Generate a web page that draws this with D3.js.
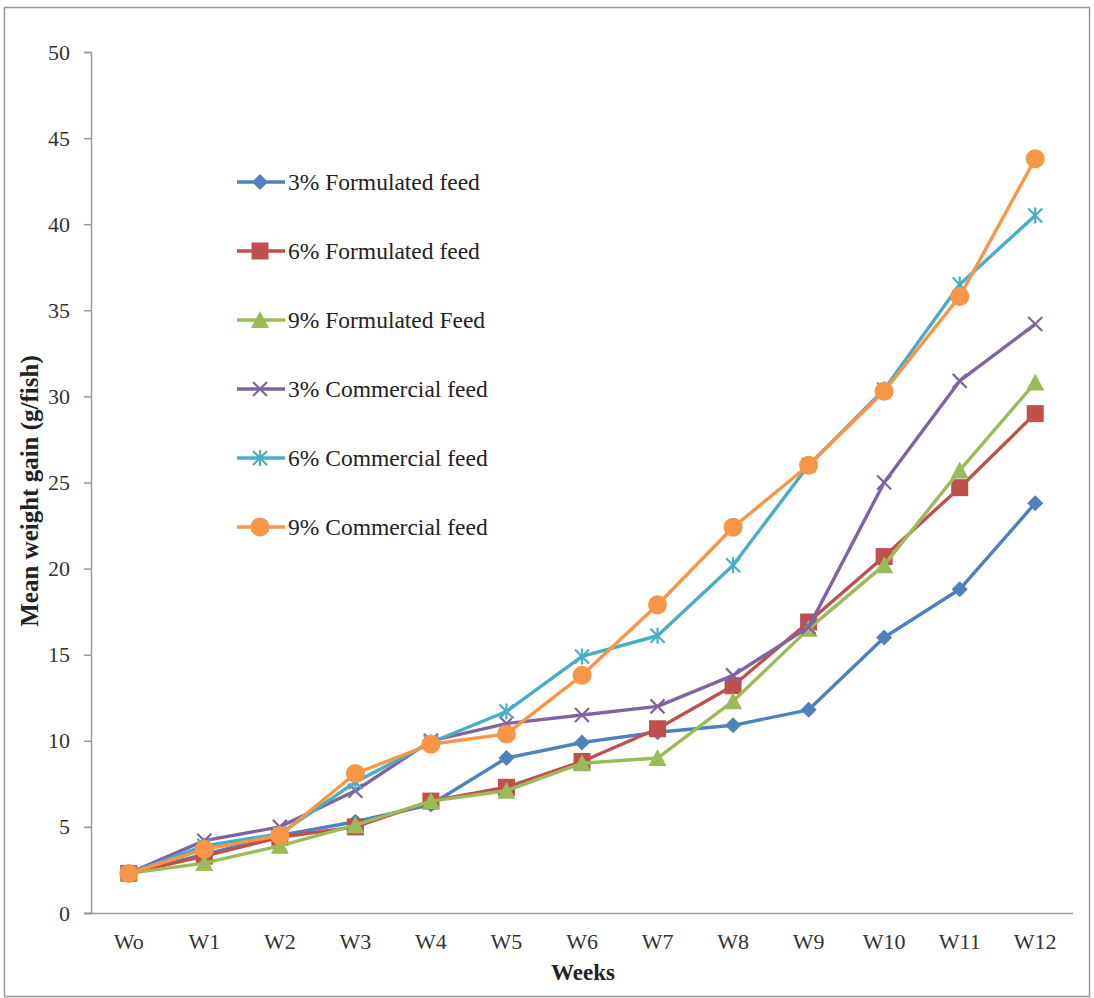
<!DOCTYPE html>
<html><head><meta charset="utf-8">
<script src="https://cdn.jsdelivr.net/npm/d3@7"></script>
<style>body{margin:0;background:#fff}svg{display:block}</style>
</head><body>
<script>
const categories = ["Wo","W1","W2","W3","W4","W5","W6","W7","W8","W9","W10","W11","W12"];
const seriesNames = ["3% Formulated feed","6% Formulated feed","9% Formulated Feed","3% Commercial feed","6% Commercial feed","9% Commercial feed"];
const f3 = [2.3,3.4,4.5,5.3,6.3,9.0,9.9,10.5,10.9,11.8,16.0,18.8,23.8];
const f6 = [2.3,3.3,4.4,5.0,6.5,7.3,8.8,10.7,13.2,16.9,20.7,24.7,29.0];
const f9 = [2.3,2.9,3.9,5.1,6.5,7.1,8.7,9.0,12.3,16.5,20.2,25.7,30.8];
const c3 = [2.3,4.2,5.0,7.1,10.0,11.0,11.5,12.0,13.8,16.6,25.0,30.9,34.2];
const c6 = [2.3,3.9,4.6,7.6,9.9,11.7,14.9,16.1,20.2,26.0,30.4,36.5,40.5];
const c9 = [2.3,3.7,4.5,8.1,9.8,10.4,13.8,17.9,22.4,26.0,30.3,35.8,43.8];
const yTicks = [0,5,10,15,20,25,30,35,40,45,50];
const colors = ["#4F81BD","#C0504D","#9BBB59","#8064A2","#4BACC6","#F79646"];
const markers = ["diamond","square","triangle","x","star","circle"];
const seriesValues = [f3,f6,f9,c3,c6,c9];

const W=1094,H=998;
const svg=d3.select("body").append("svg").attr("width",W).attr("height",H);
svg.append("rect").attr("x",4.5).attr("y",7.5).attr("width",1085).attr("height",989)
  .attr("fill","none").attr("stroke","#999").attr("stroke-width",1.5);

const mLeft=91,mRight=1073,mTop=52,mBottom=913;
const x=d3.scaleBand().domain(categories).range([mLeft,mRight]);
const y=d3.scaleLinear().domain([0,50]).range([mBottom,mTop]);
const font="'Liberation Serif','Times New Roman',serif";

// y axis
const ya=svg.append("g").attr("transform",`translate(${mLeft},0)`)
  .call(d3.axisLeft(y).tickValues(yTicks).tickSize(7).tickPadding(14));
ya.select(".domain").attr("stroke","#999").attr("stroke-width",1.5);
ya.selectAll(".tick line").attr("stroke","#999").attr("stroke-width",1.5);
ya.selectAll("text").attr("font-family",font).attr("font-size",22).attr("fill","#333");

// x axis
const xa=svg.append("g").attr("transform",`translate(0,${mBottom})`)
  .call(d3.axisBottom(x).tickSize(0).tickPadding(20));
xa.select(".domain").attr("stroke","#999").attr("stroke-width",1.5).attr("d",`M${mLeft-7},0.5H${mRight}`);
xa.selectAll("text").attr("font-family",font).attr("font-size",22).attr("fill","#333");

svg.append("text").attr("x",583).attr("y",980).attr("text-anchor","middle")
  .attr("font-family",font).attr("font-size",23).attr("font-weight","bold").attr("fill","#222").text("Weeks");
svg.append("text").attr("transform","translate(38,491) rotate(-90)").attr("text-anchor","middle")
  .attr("font-family",font).attr("font-size",25).attr("font-weight","bold").attr("fill","#222").text("Mean weight gain (g/fish)");

function drawMarker(g,type,cx,cy,color){
  if(type==="diamond"){
    g.append("path").attr("d",`M${cx},${cy-8}L${cx+8},${cy}L${cx},${cy+8}L${cx-8},${cy}Z`).attr("fill",color);
  } else if(type==="square"){
    g.append("rect").attr("x",cx-8.5).attr("y",cy-8.5).attr("width",17).attr("height",17).attr("fill",color);
  } else if(type==="triangle"){
    g.append("path").attr("d",`M${cx},${cy-9}L${cx+9},${cy+8}L${cx-9},${cy+8}Z`).attr("fill",color);
  } else if(type==="circle"){
    g.append("circle").attr("cx",cx).attr("cy",cy).attr("r",9.5).attr("fill",color);
  } else if(type==="x"){
    g.append("path").attr("d",`M${cx-7},${cy-7}L${cx+7},${cy+7}M${cx+7},${cy-7}L${cx-7},${cy+7}`)
      .attr("stroke",color).attr("stroke-width",2.2);
  } else if(type==="star"){
    g.append("path").attr("d",`M${cx-7},${cy-7}L${cx+7},${cy+7}M${cx+7},${cy-7}L${cx-7},${cy+7}M${cx},${cy-8}L${cx},${cy+8}`)
      .attr("stroke",color).attr("stroke-width",2.2);
  }
}

const line=d3.line().x((d,i)=>x(categories[i])+x.bandwidth()/2).y(d=>y(d));
seriesValues.forEach((vals,si)=>{
  const g=svg.append("g");
  g.append("path").datum(vals).attr("d",line).attr("fill","none")
    .attr("stroke",colors[si]).attr("stroke-width",3.4).attr("stroke-linejoin","round");
  vals.forEach((v,i)=>drawMarker(g,markers[si],x(categories[i])+x.bandwidth()/2,y(v),colors[si]));
});

// legend
const legY=[182,251,320,389,458,527];
seriesNames.forEach((n,i)=>{
  const g=svg.append("g");
  g.append("line").attr("x1",237).attr("x2",285).attr("y1",legY[i]).attr("y2",legY[i])
    .attr("stroke",colors[i]).attr("stroke-width",3.4);
  drawMarker(g,markers[i],260,legY[i],colors[i]);
  g.append("text").attr("x",288).attr("y",legY[i]+8).attr("font-family",font).attr("font-size",23.5)
    .attr("fill","#222").text(n);
});
</script>
</body></html>
